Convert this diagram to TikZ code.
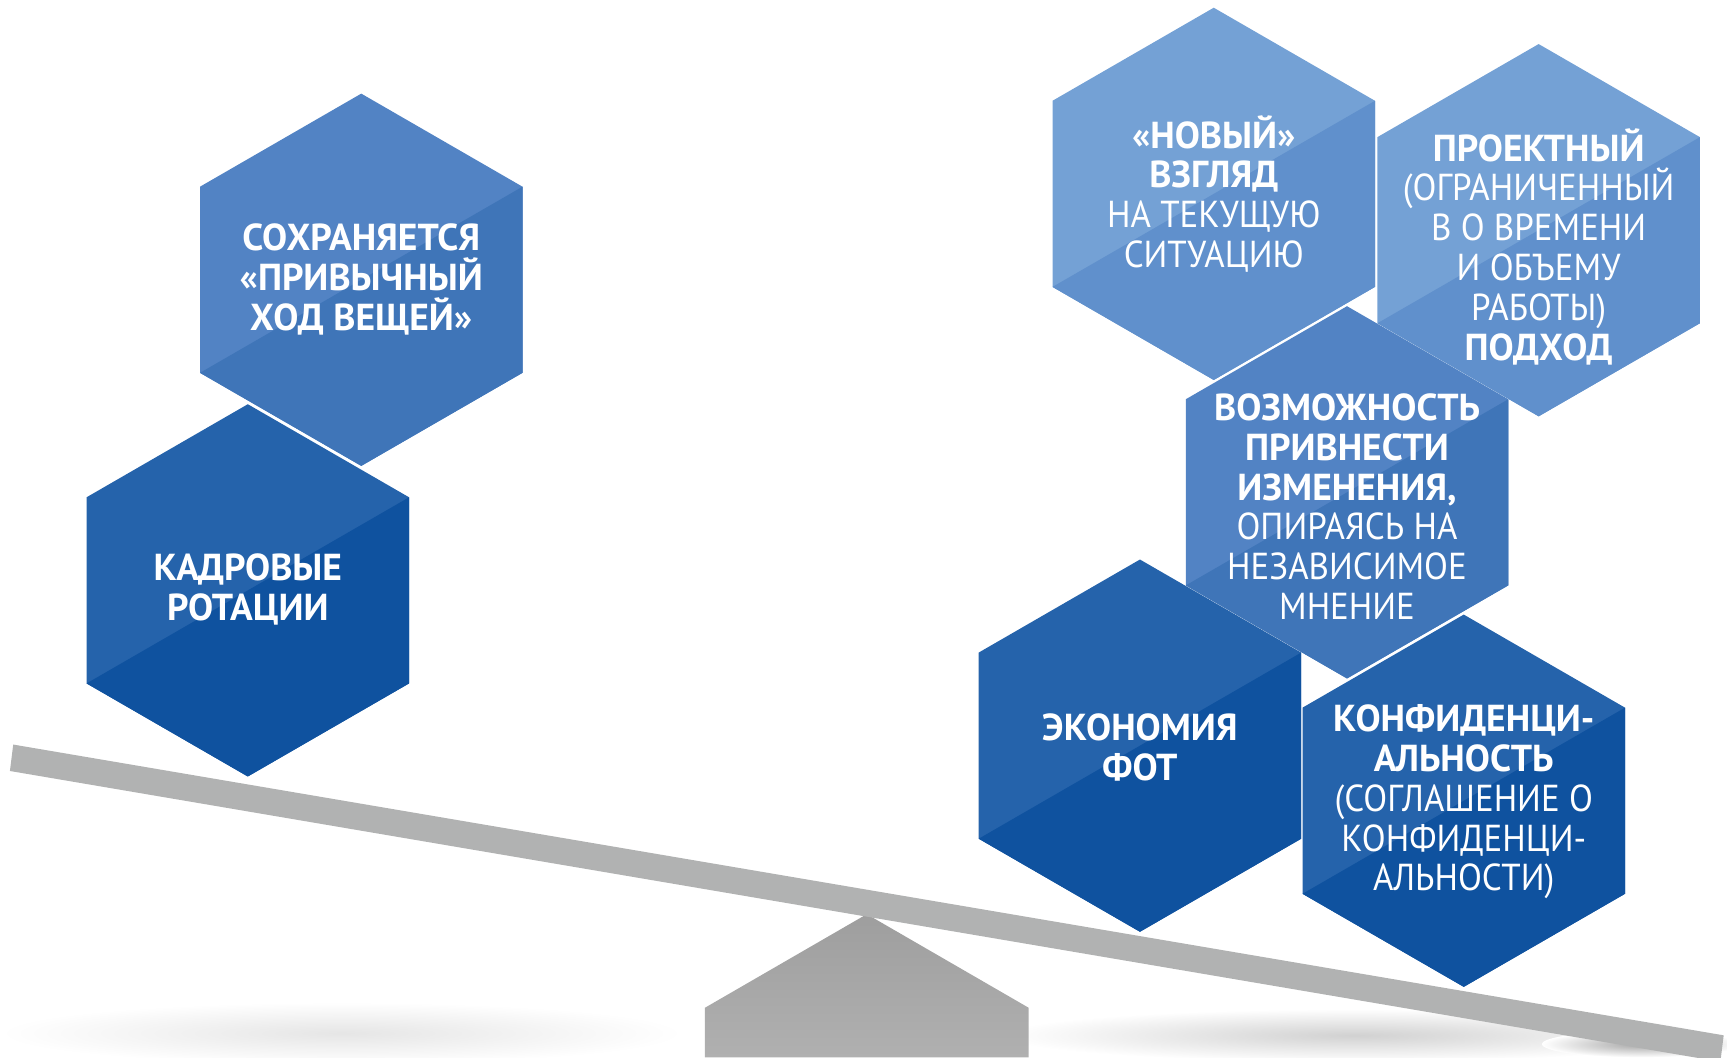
\documentclass[tikz,border=0pt]{standalone}
\usepackage{fontspec}
\setmainfont{PT Sans}[UprightFeatures={FakeStretch=0.93}]
\definecolor{paleA}{HTML}{74A1D5}
\definecolor{paleB}{HTML}{6090CC}
\definecolor{midA}{HTML}{5283C4}
\definecolor{midB}{HTML}{3F75B8}
\definecolor{deepA}{HTML}{2563AB}
\definecolor{deepB}{HTML}{0F529F}
\definecolor{beam}{HTML}{B1B2B2}
\begin{document}
\begin{tikzpicture}[x=0.1mm,y=-0.1mm]
\tikzstyle{every node}+=[inner sep=0pt]
\tikzstyle{cell text}=[text=white, align=center, font=\fontsize{9.7}{10.3}\selectfont]
\useasboundingbox (0,0) rectangle (1568,960);

\shade [inner color=black!10, outer color=white] (310,938) ellipse (310 and 28);
\shade [inner color=black!18, outer color=white] (1230,940) ellipse (320 and 24);
\shade [inner color=black!35, outer color=white] (1490,948) ellipse (90 and 12);

\shade [top color=black!38, bottom color=black!31] (787,830) -- (934,915) -- (934,960) -- (640,960) -- (640,915) -- cycle;

\fill [beam] (12,676) -- (1565,940) -- (1562,964) -- (9,700) -- cycle;

\fill [midA] (1223,447) ++(-146.4,84.5) -- ++(0,-169) -- ++(146.4,-84.5) -- ++(146.4,84.5) -- ++(0,169) -- ++(-146.4,84.5) -- cycle;
\fill [midB] (1223,447) ++(-146.4,84.5) -- ++(292.8,-169) -- ++(0,169) -- ++(-146.4,84.5) -- cycle;

\fill [paleA] (1102,176) ++(-146.4,84.5) -- ++(0,-169) -- ++(146.4,-84.5) -- ++(146.4,84.5) -- ++(0,169) -- ++(-146.4,84.5) -- cycle;
\fill [paleB] (1102,176) ++(-146.4,84.5) -- ++(292.8,-169) -- ++(0,169) -- ++(-146.4,84.5) -- cycle;

\fill [paleA] (1397,209) ++(-146.4,84.5) -- ++(0,-169) -- ++(146.4,-84.5) -- ++(146.4,84.5) -- ++(0,169) -- ++(-146.4,84.5) -- cycle;
\fill [paleB] (1397,209) ++(-146.4,84.5) -- ++(292.8,-169) -- ++(0,169) -- ++(-146.4,84.5) -- cycle;

\fill [deepA] (1035,677) ++(-146.4,84.5) -- ++(0,-169) -- ++(146.4,-84.5) -- ++(146.4,84.5) -- ++(0,169) -- ++(-146.4,84.5) -- cycle;
\fill [deepB] (1035,677) ++(-146.4,84.5) -- ++(292.8,-169) -- ++(0,169) -- ++(-146.4,84.5) -- cycle;

\fill [deepA] (1329,727) ++(-146.4,84.5) -- ++(0,-169) -- ++(146.4,-84.5) -- ++(146.4,84.5) -- ++(0,169) -- ++(-146.4,84.5) -- cycle;
\fill [deepB] (1329,727) ++(-146.4,84.5) -- ++(292.8,-169) -- ++(0,169) -- ++(-146.4,84.5) -- cycle;

\fill [deepA] (225,536) ++(-146.4,84.5) -- ++(0,-169) -- ++(146.4,-84.5) -- ++(146.4,84.5) -- ++(0,169) -- ++(-146.4,84.5) -- cycle;
\fill [deepB] (225,536) ++(-146.4,84.5) -- ++(292.8,-169) -- ++(0,169) -- ++(-146.4,84.5) -- cycle;

\fill [midA] (328,254) ++(-146.4,84.5) -- ++(0,-169) -- ++(146.4,-84.5) -- ++(146.4,84.5) -- ++(0,169) -- ++(-146.4,84.5) -- cycle;
\fill [midB] (328,254) ++(-146.4,84.5) -- ++(292.8,-169) -- ++(0,169) -- ++(-146.4,84.5) -- cycle;

\node [cell text] (habit) at (328,254) {\textbf{СОХРАНЯЕТСЯ}\\\textbf{«ПРИВЫЧНЫЙ}\\\textbf{ХОД ВЕЩЕЙ»}};
\node [cell text] (rotation) at (225,535) {\textbf{КАДРОВЫЕ}\\\textbf{РОТАЦИИ}};
\node [cell text] (freshview) at (1102,176) {\textbf{«НОВЫЙ»}\\\textbf{ВЗГЛЯД}\\НА ТЕКУЩУЮ\\СИТУАЦИЮ};
\node [cell text] (project) at (1397,224) {\textbf{ПРОЕКТНЫЙ}\\(ОГРАНИЧЕННЫЙ\\В О ВРЕМЕНИ\\И ОБЪЕМУ\\РАБОТЫ)\\\textbf{ПОДХОД}};
\node [cell text] (change) at (1223,460) {\textbf{ВОЗМОЖНОСТЬ}\\\textbf{ПРИВНЕСТИ}\\\textbf{ИЗМЕНЕНИЯ,}\\ОПИРАЯСЬ НА\\НЕЗАВИСИМОЕ\\МНЕНИЕ};
\node [cell text] (payroll) at (1035,679) {\textbf{ЭКОНОМИЯ}\\\textbf{ФОТ}};
\node [cell text] (secret) at (1329,728) {\textbf{КОНФИДЕНЦИ-}\\\textbf{АЛЬНОСТЬ}\\(СОГЛАШЕНИЕ О\\КОНФИДЕНЦИ-\\АЛЬНОСТИ)};
\end{tikzpicture}
\end{document}
